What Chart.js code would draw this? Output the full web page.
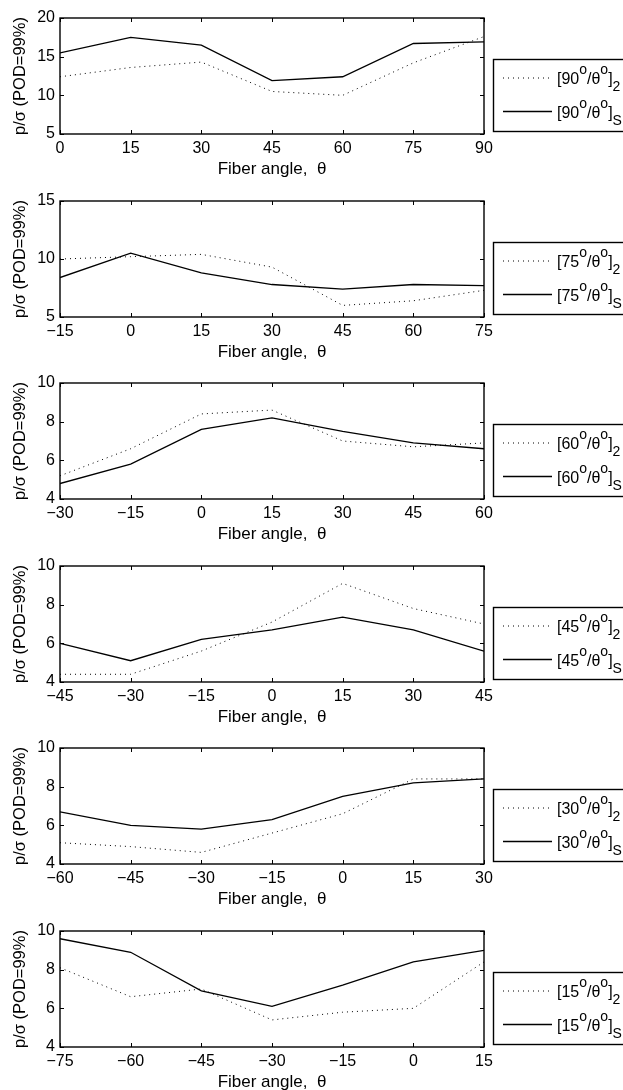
<!DOCTYPE html>
<html>
<head>
<meta charset="utf-8">
<script src="https://cdn.jsdelivr.net/npm/chart.js@4.4.1/dist/chart.umd.min.js"></script>
<style>
  body { margin: 0; background: #fff; width: 623px; height: 1090px; overflow: hidden; position: relative; }
  .panel { position: absolute; left: 0; width: 623px; height: 182px; }
</style>
</head>
<body>
<script>
// p/sigma at POD = 99% against fiber angle, one panel per outer ply angle
const angles90 = [0, 15, 30, 45, 60, 75, 90];
const two90 = [12.4, 13.6, 14.3, 10.5, 10.0, 14.2, 17.6];
const sym90 = [15.5, 17.5, 16.5, 11.9, 12.4, 16.7, 16.9];

const angles75 = [-15, 0, 15, 30, 45, 60, 75];
const two75 = [10.0, 10.2, 10.4, 9.3, 6.0, 6.4, 7.3];
const sym75 = [8.4, 10.5, 8.8, 7.8, 7.4, 7.8, 7.7];

const angles60 = [-30, -15, 0, 15, 30, 45, 60];
const two60 = [5.2, 6.6, 8.4, 8.6, 7.0, 6.7, 6.9];
const sym60 = [4.8, 5.8, 7.6, 8.2, 7.5, 6.9, 6.6];

const angles45 = [-45, -30, -15, 0, 15, 30, 45];
const two45 = [4.4, 4.4, 5.6, 7.1, 9.1, 7.8, 7.0];
const sym45 = [6.0, 5.1, 6.2, 6.7, 7.35, 6.7, 5.6];

const angles30 = [-60, -45, -30, -15, 0, 15, 30];
const two30 = [5.1, 4.9, 4.6, 5.6, 6.6, 8.4, 8.4];
const sym30 = [6.7, 6.0, 5.8, 6.3, 7.5, 8.2, 8.4];

const angles15 = [-75, -60, -45, -30, -15, 0, 15];
const two15 = [8.1, 6.6, 7.0, 5.4, 5.8, 6.0, 8.4];
const sym15 = [9.6, 8.9, 6.9, 6.1, 7.2, 8.4, 9.0];

const yLimits90 = [5, 20, 5];
const yLimits75 = [5, 15, 5];
const yLimitsSmall = [4, 10, 2];

const panels = [
  { ply: '90', angles: angles90, two: two90, sym: sym90, y: yLimits90 },
  { ply: '75', angles: angles75, two: two75, sym: sym75, y: yLimits75 },
  { ply: '60', angles: angles60, two: two60, sym: sym60, y: yLimitsSmall },
  { ply: '45', angles: angles45, two: two45, sym: sym45, y: yLimitsSmall },
  { ply: '30', angles: angles30, two: two30, sym: sym30, y: yLimitsSmall },
  { ply: '15', angles: angles15, two: two15, sym: sym15, y: yLimitsSmall }
];

const FONT = "'Liberation Sans', Arial, Helvetica, sans-serif";
const PLOT_TOP = 18;
const PLOT_H = 116;
const PANEL_H = 182;

// box, inward ticks on all four sides and the stacking-sequence legend
const matlabFrame = {
  id: 'matlabFrame',
  afterDraw(chart) {
    const { ctx, chartArea: a, scales: { x, y } } = chart;
    ctx.save();
    ctx.strokeStyle = '#000';
    ctx.lineWidth = 1;
    ctx.beginPath();
    x.ticks.forEach(t => {
      const px = Math.round(x.getPixelForValue(t.value)) + 0.5;
      ctx.moveTo(px, a.bottom); ctx.lineTo(px, a.bottom - 4);
      ctx.moveTo(px, a.top); ctx.lineTo(px, a.top + 4);
    });
    y.ticks.forEach(t => {
      const py = Math.round(y.getPixelForValue(t.value)) + 0.5;
      ctx.moveTo(a.left, py); ctx.lineTo(a.left + 4, py);
      ctx.moveTo(a.right, py); ctx.lineTo(a.right - 4, py);
    });
    ctx.stroke();
    ctx.lineWidth = 1.4;
    ctx.strokeRect(a.left, a.top, a.right - a.left, a.bottom - a.top);

    // legend
    const boxL = 493, boxT = a.top + 41, boxH = 72;
    ctx.fillStyle = '#fff';
    ctx.fillRect(boxL, boxT, 140, boxH);
    ctx.strokeRect(boxL + 0.5, boxT + 0.5, 140, boxH);
    chart.data.datasets.forEach((ds, i) => {
      const ly = boxT + 19 + i * 33.5;
      ctx.save();
      ctx.lineWidth = ds.borderWidth;
      ctx.strokeStyle = ds.borderColor;
      ctx.setLineDash(ds.borderDash || []);
      ctx.beginPath();
      ctx.moveTo(503, ly); ctx.lineTo(552, ly);
      ctx.stroke();
      ctx.restore();
      const pieces = [
        ['[' + ds.ply, 0, 16], ['o', -10, 14], ['/\u03b8', 0, 16], ['o', -10, 14], [']', 0, 16], [ds.sub, 7, 14]
      ];
      ctx.fillStyle = '#000';
      ctx.textBaseline = 'alphabetic';
      ctx.textAlign = 'left';
      let tx = 557;
      pieces.forEach(([s, dy, size]) => {
        ctx.font = size + 'px ' + FONT;
        ctx.fillText(s, tx, ly + 6 + dy);
        tx += ctx.measureText(s).width;
      });
    });
    ctx.restore();
  }
};

const tickLabel = v => (v < 0 ? '\u2212' + Math.abs(v) : String(v));

panels.forEach((p, i) => {
  const div = document.createElement('div');
  div.className = 'panel';
  div.style.top = Math.round(i * 182.6) + 'px';
  const canvas = document.createElement('canvas');
  div.appendChild(canvas);
  document.body.appendChild(div);

  const toPoints = vals => vals.map((v, k) => ({ x: p.angles[k], y: v }));

  new Chart(canvas, {
    type: 'line',
    data: {
      datasets: [
        {
          label: '[' + p.ply + '/\u03b8]2', ply: p.ply, sub: '2',
          data: toPoints(p.two),
          borderColor: '#000', borderWidth: 1, borderDash: [1, 4],
          pointRadius: 0, tension: 0, fill: false
        },
        {
          label: '[' + p.ply + '/\u03b8]S', ply: p.ply, sub: 'S',
          data: toPoints(p.sym),
          borderColor: '#000', borderWidth: 1.3,
          pointRadius: 0, tension: 0, fill: false
        }
      ]
    },
    options: {
      responsive: true,
      maintainAspectRatio: false,
      animation: false,
      layout: { padding: { top: PLOT_TOP, right: 139, left: 0, bottom: 0 } },
      plugins: { legend: { display: false }, tooltip: { enabled: false } },
      scales: {
        x: {
          type: 'linear',
          min: p.angles[0],
          max: p.angles[p.angles.length - 1],
          afterFit: s => { s.height = PANEL_H - PLOT_TOP - PLOT_H; },
          grid: { display: false, drawTicks: false },
          border: { display: false },
          ticks: {
            stepSize: 15, padding: 5, color: '#000',
            font: { family: FONT, size: 16 },
            maxRotation: 0, callback: tickLabel
          },
          title: {
            display: true, text: 'Fiber angle,  \u03b8', color: '#000',
            font: { family: FONT, size: 17 }, padding: { top: 0, bottom: 2 }
          }
        },
        y: {
          min: p.y[0], max: p.y[1],
          afterFit: s => { s.width = 60; },
          grid: { display: false, drawTicks: false },
          border: { display: false },
          ticks: {
            stepSize: p.y[2], padding: 5, color: '#000',
            font: { family: FONT, size: 16 }
          },
          title: {
            display: true, text: 'p/\u03c3 (POD=99%)', color: '#000',
            font: { family: FONT, size: 16.5 }, padding: { top: 11, bottom: 0 }
          }
        }
      }
    },
    plugins: [matlabFrame]
  });
});
</script>
</body>
</html>
